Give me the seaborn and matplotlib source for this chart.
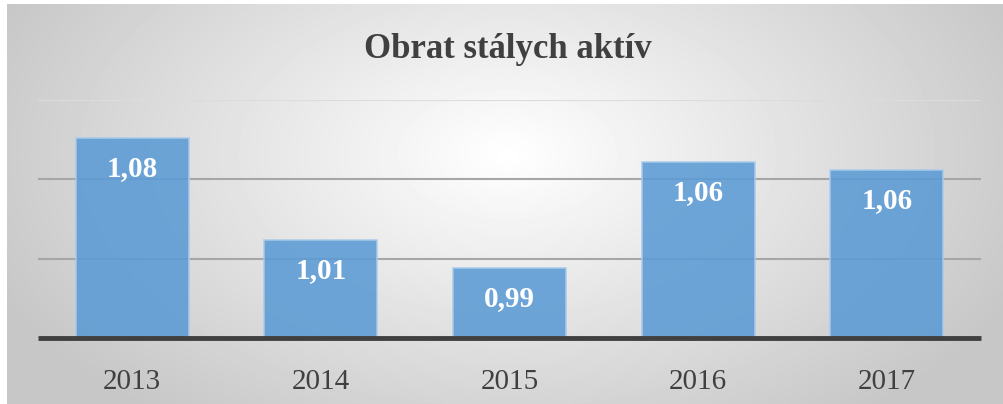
import numpy as np
import pandas as pd
import seaborn as sns
import matplotlib.pyplot as plt

# Údaje z grafu
roky = ["2013", "2014", "2015", "2016", "2017"]
obrat = [1.076, 1.012, 0.994, 1.061, 1.056]
osi_y = [1.0, 1.05, 1.1]

df = pd.DataFrame({"rok": roky, "obrat": obrat})

sns.set_style("white")
plt.rcParams["font.family"] = ["Liberation Serif", "DejaVu Serif"]

W, H = 1004, 404
fig = plt.figure(figsize=(W / 100, H / 100), dpi=100)
fig.patch.set_facecolor("white")

# Pozadie s radiálnym prechodom
bg = fig.add_axes([7 / W, 0, (W - 7) / W, 400 / H])
yy, xx = np.mgrid[0:400, 0:997]
r = np.sqrt(((xx - 500) / 560) ** 2 + ((yy - 150) / 330) ** 2)
shade = 1.0 - 0.22 * np.clip(r, 0, 1)
bg.imshow(shade, cmap="gray", vmin=0, vmax=1, aspect="auto", interpolation="bilinear")
bg.axis("off")

# Hlavná os
x0, x1 = 38, 981
ytop, ybot = 100, 338
ax = fig.add_axes([x0 / W, (H - ybot) / H, (x1 - x0) / W, (ybot - ytop) / H])
ax.set_facecolor((0, 0, 0, 0))

sns.barplot(data=df, x="rok", y="obrat", color="#5b9bd5", width=0.6, saturation=1,
            alpha=0.88, edgecolor="#a9cbea", linewidth=1.2, ax=ax, zorder=3)

ax.set_ylim(0.95, 1.1)
ax.set_xlim(-0.5, len(roky) - 0.5)

# Mriežka
for v in osi_y:
    farba = "#dcdcdc" if v == max(osi_y) else "#a6a6a6"
    ax.axhline(v, color=farba, linewidth=1.5, zorder=1)
ax.axhline(0.95, color="#404040", linewidth=3.5, zorder=5, clip_on=False,
           solid_capstyle="butt")

for s in ax.spines.values():
    s.set_visible(False)
ax.set_yticks([])
ax.set_xlabel("")
ax.set_ylabel("")
ax.tick_params(axis="x", length=0, pad=22, labelsize=21, labelcolor="#404040")

# Popisky hodnôt
for i, v in enumerate(obrat):
    ax.annotate(f"{v:.2f}".replace(".", ","), (i, v), xytext=(0, -22),
                textcoords="offset points", ha="center", va="center",
                fontsize=21, fontweight="bold", color="white", zorder=6)

fig.text(508 / W, (H - 50) / H, "Obrat stálych aktív", ha="center", va="center",
         fontsize=25, fontweight="bold", color="#404040")

fig.savefig("out.png", dpi=100)
